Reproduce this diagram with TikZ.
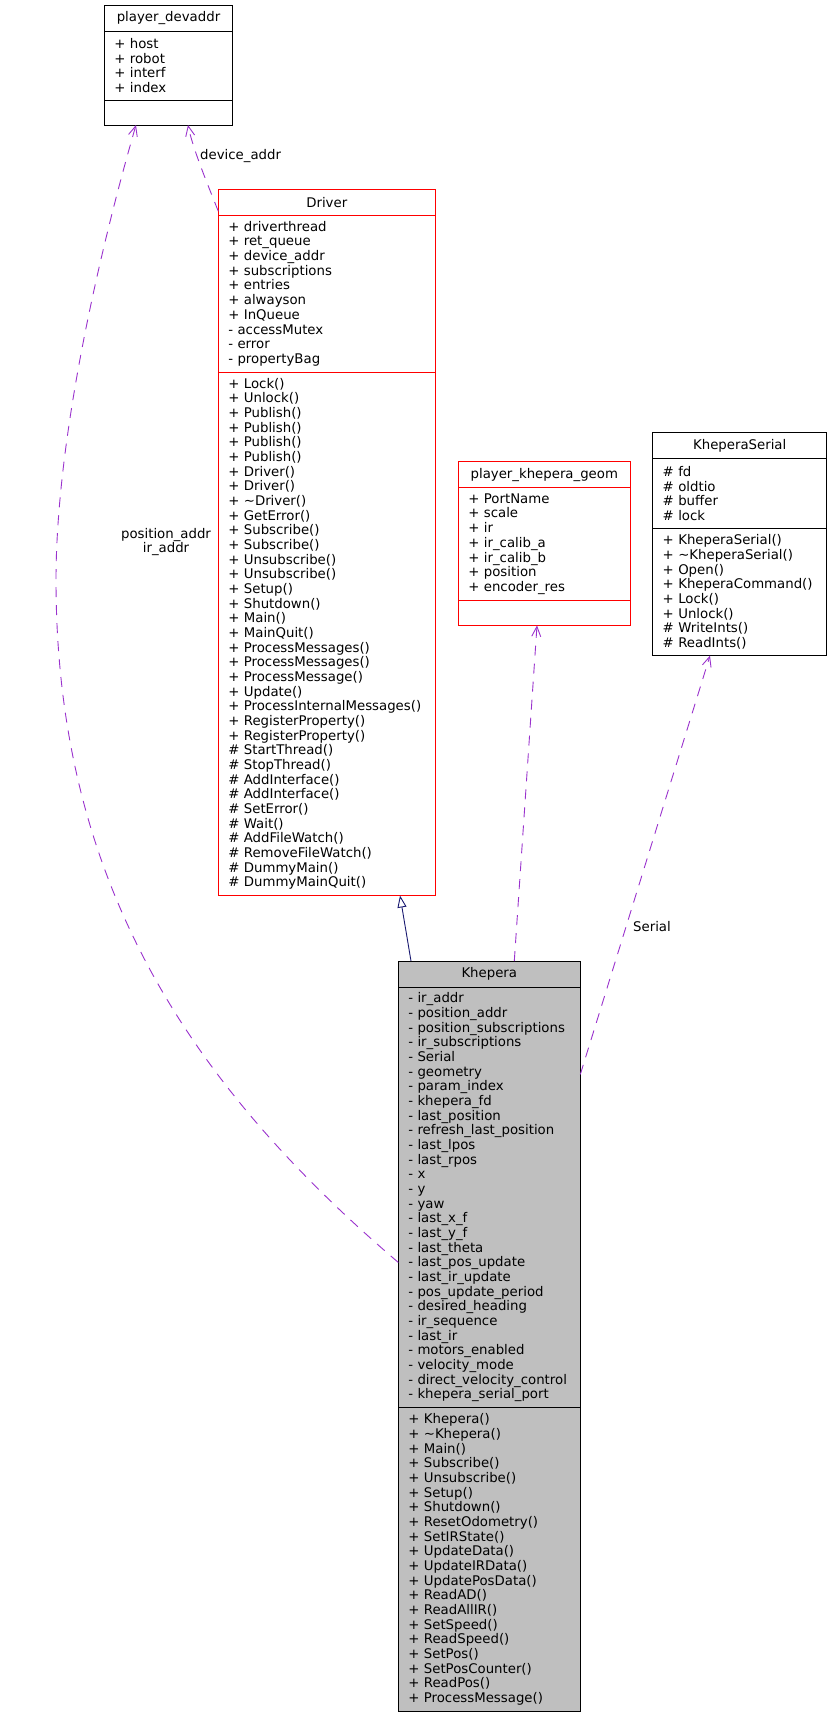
\documentclass[tikz,border=0pt]{standalone}
\usepackage{fontspec}
\setmainfont{DejaVu Sans}
\usepackage{tikz}
\usetikzlibrary{arrows.meta,positioning}
\definecolor{usepurple}{RGB}{154,50,205}
\definecolor{inhnavy}{RGB}{25,25,112}
\definecolor{selfgray}{RGB}{191,191,191}
\newcommand{\umlfont}{\fontsize{13.3}{14.67}\selectfont}
\tikzset{
  clshead/.style={rectangle, draw=#1, line width=1pt, outer sep=0pt, inner xsep=10pt,
                  inner ysep=0pt, minimum height=26pt, align=center, font=\umlfont},
  clspart/.style={rectangle, draw=#1, line width=1pt, outer sep=0pt, inner xsep=10pt,
                  inner ysep=0pt, align=left, font=\umlfont},
  usage/.style={-{Straight Barb[length=10pt,width=9pt]}, usepurple, line width=0.9pt,
                dash pattern=on 10pt off 8pt},
  inherit/.style={-{Triangle[open,length=12pt,width=9pt]}, inhnavy, line width=0.9pt},
  elabel/.style={font=\umlfont, inner sep=0pt, align=center},
}

\begin{document}
\begin{tikzpicture}[x=1pt,y=-1pt]
  \useasboundingbox (0,0) rectangle (831,1717);
  % player_devaddr
  \node[clshead=black, text width=108.4pt, anchor=north west] (pda) at (104.3,5.3) {player\_devaddr};
  \node[clspart=black, text width=108.4pt, minimum height=68.7pt, below=0pt of pda] (pda-at)
    {+ host\\+ robot\\+ interf\\+ index};
  \node[clspart=black, text width=108.4pt, minimum height=25pt, below=0pt of pda-at] (pda-op) {};

  % Driver
  \node[clshead=red, text width=197pt, anchor=north west] (drv) at (218.3,189.3) {Driver};
  \node[clspart=red, text width=197pt, minimum height=156.7pt, below=0pt of drv] (drv-at)
    {+ driverthread\\+ ret\_queue\\+ device\_addr\\+ subscriptions\\+ entries\\+ alwayson\\+ InQueue\\- accessMutex\\- error\\- propertyBag};
  \node[clspart=red, text width=197pt, minimum height=523.5pt, below=0pt of drv-at] (drv-op)
    {+ Lock()\\+ Unlock()\\+ Publish()\\+ Publish()\\+ Publish()\\+ Publish()\\+ Driver()\\+ Driver()\\+ \textasciitilde Driver()\\+ GetError()\\+ Subscribe()\\+ Subscribe()\\+ Unsubscribe()\\+ Unsubscribe()\\+ Setup()\\+ Shutdown()\\+ Main()\\+ MainQuit()\\+ ProcessMessages()\\+ ProcessMessages()\\+ ProcessMessage()\\+ Update()\\+ ProcessInternalMessages()\\+ RegisterProperty()\\+ RegisterProperty()\\\# StartThread()\\\# StopThread()\\\# AddInterface()\\\# AddInterface()\\\# SetError()\\\# Wait()\\\# AddFileWatch()\\\# RemoveFileWatch()\\\# DummyMain()\\\# DummyMainQuit()};

  % player_khepera_geom
  \node[clshead=red, text width=152pt, anchor=north west] (geom) at (458.3,461.7) {player\_khepera\_geom};
  \node[clspart=red, text width=152pt, minimum height=112.7pt, below=0pt of geom] (geom-at)
    {+ PortName\\+ scale\\+ ir\\+ ir\_calib\_a\\+ ir\_calib\_b\\+ position\\+ encoder\_res};
  \node[clspart=red, text width=152pt, minimum height=25pt, below=0pt of geom-at] (geom-op) {};

  % KheperaSerial
  \node[clshead=black, text width=154pt, anchor=north west] (ser) at (652.7,432.7) {KheperaSerial};
  \node[clspart=black, text width=154pt, minimum height=69.5pt, below=0pt of ser] (ser-at)
    {\# fd\\\# oldtio\\\# buffer\\\# lock};
  \node[clspart=black, text width=154pt, minimum height=127.4pt, below=0pt of ser-at] (ser-op)
    {+ KheperaSerial()\\+ \textasciitilde KheperaSerial()\\+ Open()\\+ KheperaCommand()\\+ Lock()\\+ Unlock()\\\# WriteInts()\\\# ReadInts()};

  % Khepera
  \node[clshead=black, fill=selfgray, text width=162pt, anchor=north west] (kh) at (398.3,961) {Khepera};
  \node[clspart=black, fill=selfgray, text width=162pt, minimum height=420.8pt, below=0pt of kh] (kh-at)
    {- ir\_addr\\- position\_addr\\- position\_subscriptions\\- ir\_subscriptions\\- Serial\\- geometry\\- param\_index\\- khepera\_fd\\- last\_position\\- refresh\_last\_position\\- last\_lpos\\- last\_rpos\\- x\\- y\\- yaw\\- last\_x\_f\\- last\_y\_f\\- last\_theta\\- last\_pos\_update\\- last\_ir\_update\\- pos\_update\_period\\- desired\_heading\\- ir\_sequence\\- last\_ir\\- motors\_enabled\\- velocity\_mode\\- direct\_velocity\_control\\- khepera\_serial\_port};
  \node[clspart=black, fill=selfgray, text width=162pt, minimum height=303.4pt, below=0pt of kh-at] (kh-op)
    {+ Khepera()\\+ \textasciitilde Khepera()\\+ Main()\\+ Subscribe()\\+ Unsubscribe()\\+ Setup()\\+ Shutdown()\\+ ResetOdometry()\\+ SetIRState()\\+ UpdateData()\\+ UpdateIRData()\\+ UpdatePosData()\\+ ReadAD()\\+ ReadAllIR()\\+ SetSpeed()\\+ ReadSpeed()\\+ SetPos()\\+ SetPosCounter()\\+ ReadPos()\\+ ProcessMessage()};

  % inheritance
  \draw[inherit] ([xshift=-78.3pt]kh.north) -- ([xshift=73.2pt]drv-op.south);

  % usage edges
  \coordinate (bend) at (56,580);
  \draw[usage] ([yshift=-65pt]kh-at.west) .. controls (188,1083) and (56,880) .. (bend)
    .. controls (56,430) and (105,232) .. ([xshift=-32.5pt]pda-op.south);
  \draw[usage] ([yshift=-9pt]drv.west) .. controls (210,190) and (193,150) .. ([xshift=19.5pt]pda-op.south);
  \draw[usage] ([xshift=25pt]kh.north) -- ([xshift=-7.3pt]geom-op.south);
  \draw[usage] ([yshift=123pt]kh-at.east) -- ([xshift=-29.7pt]ser-op.south);

  % edge labels
  \node[elabel] (lbl-pos) at (166,542) {position\_addr\\ir\_addr};
  \node[elabel, anchor=west] (lbl-dev) at (200,156) {device\_addr};
  \node[elabel, anchor=west] (lbl-ser) at (633,927) {Serial};
\end{tikzpicture}
\end{document}
